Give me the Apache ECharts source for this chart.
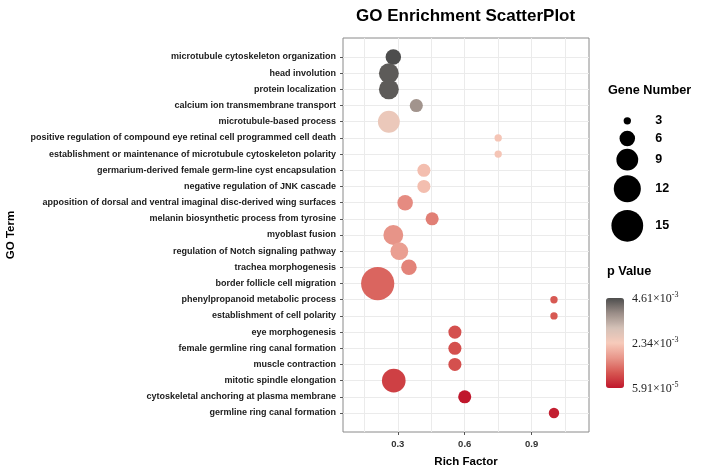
<!DOCTYPE html>
<html><head><meta charset="utf-8">
<script src="https://cdn.jsdelivr.net/npm/echarts@6/dist/echarts.min.js"></script>
<style>html,body{margin:0;padding:0;background:#fff}#c{width:702px;height:470px}</style>
</head><body><div id="c"></div>
<script>
// ---- data ----
const terms = [
  'microtubule cytoskeleton organization',
  'head involution',
  'protein localization',
  'calcium ion transmembrane transport',
  'microtubule-based process',
  'positive regulation of compound eye retinal cell programmed cell death',
  'establishment or maintenance of microtubule cytoskeleton polarity',
  'germarium-derived female germ-line cyst encapsulation',
  'negative regulation of JNK cascade',
  'apposition of dorsal and ventral imaginal disc-derived wing surfaces',
  'melanin biosynthetic process from tyrosine',
  'myoblast fusion',
  'regulation of Notch signaling pathway',
  'trachea morphogenesis',
  'border follicle cell migration',
  'phenylpropanoid metabolic process',
  'establishment of cell polarity',
  'eye morphogenesis',
  'female germline ring canal formation',
  'muscle contraction',
  'mitotic spindle elongation',
  'cytoskeletal anchoring at plasma membrane',
  'germline ring canal formation'
];
const richFactor = [0.28, 0.26, 0.26, 0.383, 0.26, 0.75, 0.75, 0.417, 0.417, 0.333, 0.454, 0.28, 0.307, 0.35, 0.21, 1.0, 1.0, 0.556, 0.556, 0.556, 0.282, 0.6, 1.0];
const geneNumber = [6, 8, 8, 5, 9, 3, 3, 5, 5, 6, 5, 8, 7, 6, 16, 3, 3, 5, 5, 5, 10, 5, 4];
const pValue = [4.61e-3, 4.45e-3, 4.45e-3, 3.75e-3, 2.6e-3, 2.25e-3, 2.25e-3, 2.15e-3, 2.15e-3, 1.45e-3, 1.3e-3, 1.55e-3, 1.7e-3, 1.35e-3, 1.0e-3, 0.85e-3, 0.85e-3, 0.75e-3, 0.75e-3, 0.75e-3, 0.55e-3, 5.91e-5, 1.6e-4];
const xTicks = [0.3, 0.6, 0.9];
const xGridLines = [0.15, 0.3, 0.45, 0.6, 0.75, 0.9, 1.05];
const sizeBreaks = [3, 6, 9, 12, 15];
const pTicks = [5.91e-5, 2.34e-3, 4.61e-3];
const pMin = 5.91e-5, pMax = 4.61e-3;

// ---- helpers ----
const FONT = 'Liberation Sans, Arial, Helvetica, sans-serif';
function sizeOf(n) { return Math.max(3, -12.4 + 11.4 * Math.sqrt(n)); }

const mainData = terms.map((t, i) => [richFactor[i], i, geneNumber[i], pValue[i]]);

// size legend layout (key heights grow with symbol size)
const keyH = sizeBreaks.map(n => Math.max(17.6, 1.6 * sizeOf(n) - 10));
const keyCenters = [];
let acc = 0;
keyH.forEach(h => { keyCenters.push(acc + h / 2); acc += h; });
const legendH = acc;
const legendData = sizeBreaks.map((n, i) => [0.5, keyCenters[i], n]);

// colorbar geometry
const cbLeft = 606, cbTop = 298, cbW = 18, cbH = 90;
function fmtP(v) {
  const s = v.toExponential(2).split('e');
  return '{m|' + s[0] + '×10}{s|' + s[1].replace('+', '') + '}';
}
const pLabelGraphics = pTicks.map(v => ({
  type: 'text',
  left: cbLeft + cbW + 8,
  top: cbTop + (1 - (v - pMin) / (pMax - pMin)) * cbH - 7,
  style: {
    text: fmtP(v),
    rich: {
      m: { fontFamily: 'Liberation Serif, Times New Roman, serif', fontSize: 12, fill: '#222', lineHeight: 16 },
      s: { fontFamily: 'Liberation Serif, Times New Roman, serif', fontSize: 8, fill: '#222', verticalAlign: 'top', lineHeight: 10 }
    }
  }
}));

const yPad = 1.175;
const chart = echarts.init(document.getElementById('c'), null, { renderer: 'canvas' });
chart.setOption({
  backgroundColor: '#fff',
  animation: false,
  title: {
    text: 'GO Enrichment ScatterPlot', left: 356, top: 8, padding: 0,
    textStyle: { fontFamily: FONT, fontSize: 17, fontWeight: 'bold', color: '#000' }
  },
  grid: [
    { left: 343, top: 38, width: 246, height: 394, show: true, borderColor: '#8a8a8a', borderWidth: 1, backgroundColor: '#fff', outerBoundsMode: 'none', containLabel: false },
    { left: 617.3, top: 112, width: 20, height: legendH, outerBoundsMode: 'none', containLabel: false }
  ],
  xAxis: [
    {
      gridIndex: 0, type: 'value', min: 0.0545, max: 1.157, position: 'bottom',
      name: 'Rich Factor', nameLocation: 'middle', nameGap: 24,
      nameTextStyle: { fontFamily: FONT, fontSize: 11.5, fontWeight: 'bold', color: '#000' },
      axisLine: { show: false, onZero: false },
      axisTick: { show: true, length: 3, customValues: xTicks, lineStyle: { color: '#555' } },
      axisLabel: { customValues: xTicks, margin: 7, fontFamily: FONT, fontSize: 9.5, fontWeight: 'bold', color: '#333',
        formatter: v => v.toFixed(1) },
      splitLine: { show: false }
    },
    {
      gridIndex: 0, type: 'value', min: 0.0545, max: 1.157, position: 'bottom',
      axisLine: { show: false, onZero: false }, axisLabel: { show: false },
      axisTick: { show: false, customValues: xGridLines },
      splitLine: { show: true, lineStyle: { color: '#ebebeb', width: 1 } }
    },
    { gridIndex: 1, type: 'value', min: 0, max: 1, show: false }
  ],
  yAxis: [
    {
      gridIndex: 0, type: 'value', min: -yPad, max: terms.length - 1 + yPad, inverse: true,
      name: 'GO Term', nameLocation: 'middle', nameGap: 326, nameRotate: 90,
      nameTextStyle: { fontFamily: FONT, fontSize: 11.5, fontWeight: 'bold', color: '#000' },
      axisLine: { show: false, onZero: false },
      axisTick: { show: true, length: 3, customValues: terms.map((t, i) => i), lineStyle: { color: '#555' } },
      axisLabel: { customValues: terms.map((t, i) => i), margin: 7, fontFamily: FONT, fontSize: 9, fontWeight: 'bold', color: '#1a1a1a',
        formatter: v => terms[Math.round(v)] },
      splitLine: { show: true, lineStyle: { color: '#ebebeb', width: 1 } }
    },
    {
      gridIndex: 1, type: 'value', min: 0, max: legendH, inverse: true, position: 'right',
      axisLine: { show: false, onZero: false }, axisTick: { show: false }, splitLine: { show: false },
      axisLabel: { customValues: keyCenters, margin: 18, fontFamily: FONT, fontSize: 12.5, fontWeight: 'bold', color: '#000',
        formatter: v => { let b = 0, d = 1e9; keyCenters.forEach((c, i) => { if (Math.abs(c - v) < d) { d = Math.abs(c - v); b = i; } }); return String(sizeBreaks[b]); } }
    }
  ],
  visualMap: {
    type: 'continuous', min: pMin, max: pMax, dimension: 3, seriesIndex: 0,
    calculable: false, orient: 'vertical', left: cbLeft, top: cbTop, itemWidth: cbW, itemHeight: cbH, padding: 0,
    text: null, showLabel: false,
    inRange: { color: ['#c0172c', '#d65651', '#e8968a', '#f7cbbb', '#d4c1b7', '#9a8d87', '#4d4d4d'] }
  },
  graphic: [
    { type: 'text', left: 608, top: 84, style: { text: 'Gene Number', fontFamily: FONT, fontSize: 12.7, fontWeight: 'bold', fill: '#000' } },
    { type: 'text', left: 607, top: 265, style: { text: 'p Value', fontFamily: FONT, fontSize: 12.7, fontWeight: 'bold', fill: '#000' } }
  ].concat(pLabelGraphics),
  series: [
    {
      type: 'scatter', xAxisIndex: 0, yAxisIndex: 0, data: mainData,
      symbolSize: v => sizeOf(v[2]), itemStyle: { opacity: 1 }
    },
    {
      type: 'scatter', xAxisIndex: 2, yAxisIndex: 1, data: legendData,
      symbolSize: v => sizeOf(v[2]), itemStyle: { color: '#000', opacity: 1 }, silent: true
    }
  ]
});
</script></body></html>
